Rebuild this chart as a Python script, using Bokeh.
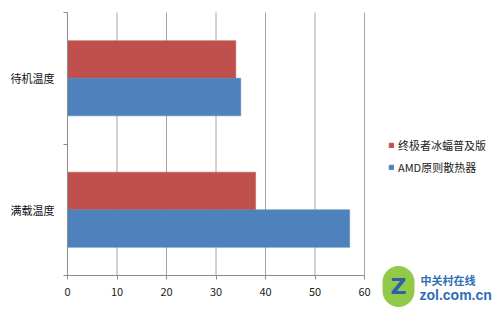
from bokeh.plotting import figure
from bokeh.models import (ColumnDataSource, FixedTicker, Legend, LegendItem, Label, Range1d)
from bokeh.embed import file_html
from bokeh.resources import INLINE

categories = ["满载温度", "待机温度"]  # bottom to top
series_names = ["终极者冰蝠普及版", "AMD原则散热器"]
series_colors = ["#c0504d", "#4f81bd"]
red_values = [38, 34]
blue_values = [57, 35]
x_ticks = [0, 10, 20, 30, 40, 50, 60]

FONT = "Noto Sans CJK SC"

# layout constants: value 0..60 spans px 67..364, categories span px 275..12
PX_PER_X = 297 / 60
PX_PER_Y = 263 / 2
x_start = -67 / PX_PER_X
x_end = (500 - 67) / PX_PER_X
y_start = -(314 - 275) / PX_PER_Y
y_end = 2 + 12 / PX_PER_Y

p = figure(width=500, height=314, output_backend="svg", toolbar_location=None,
           x_range=Range1d(x_start, x_end), y_range=Range1d(y_start, y_end),
           min_border=0)
p.outline_line_color = None
p.background_fill_color = "white"
p.border_fill_color = "white"
p.xgrid.grid_line_color = None
p.ygrid.grid_line_color = None

n = len(categories)
centers = [i + 0.5 for i in range(n)]

# vertical grid lines across the category span
p.segment(x0=x_ticks[1:], x1=x_ticks[1:], y0=[0] * (len(x_ticks) - 1),
          y1=[n] * (len(x_ticks) - 1), line_color="#a6a6a6", line_width=1)

bar_h = 0.286
off = 0.143
src_r = ColumnDataSource(dict(y=[c + off for c in centers], right=red_values))
src_b = ColumnDataSource(dict(y=[c - off for c in centers], right=blue_values))
r1 = p.hbar(y="y", right="right", left=0, height=bar_h, source=src_r,
            fill_color=series_colors[0], line_color=series_colors[0], line_width=0.5)
r2 = p.hbar(y="y", right="right", left=0, height=bar_h, source=src_b,
            fill_color=series_colors[1], line_color=series_colors[1], line_width=0.5)

# x axis
xa = p.xaxis[0]
xa.fixed_location = 0
xa.bounds = (0, 60)
xa.ticker = FixedTicker(ticks=x_ticks)
xa.axis_line_color = "#8c8c8c"
xa.major_tick_line_color = "#8c8c8c"
xa.major_tick_out = 4
xa.major_tick_in = 0
xa.minor_tick_line_color = None
xa.major_label_text_font = FONT
xa.major_label_text_font_size = "11px"
xa.major_label_text_color = "#222222"
xa.major_label_standoff = 8

# y axis
ya = p.yaxis[0]
ya.fixed_location = 0
ya.bounds = (0, n)
ya.ticker = FixedTicker(ticks=centers, minor_ticks=list(range(n + 1)))
ya.major_label_overrides = {c: lab for c, lab in zip(centers, categories)}
ya.axis_line_color = "#8c8c8c"
ya.major_tick_line_color = None
ya.major_tick_out = 0
ya.major_tick_in = 0
ya.minor_tick_line_color = "#8c8c8c"
ya.minor_tick_out = 4
ya.minor_tick_in = 0
ya.major_label_text_font = FONT
ya.major_label_text_font_size = "11px"
ya.major_label_text_color = "#111111"
ya.major_label_standoff = 9

legend = Legend(items=[LegendItem(label=series_names[0], renderers=[r1]),
                       LegendItem(label=series_names[1], renderers=[r2])],
                location=(388, 139), orientation="vertical",
                glyph_width=6, glyph_height=6, label_standoff=4, spacing=6,
                label_height=14, padding=0, margin=0,
                border_line_color=None, background_fill_alpha=0,
                label_text_font=FONT, label_text_font_size="11px",
                label_text_color="#222222")
p.add_layout(legend)

# watermark
p.add_layout(Label(x=398, y=28, x_units="screen", y_units="screen", text="Z",
                   text_align="center", text_baseline="middle",
                   text_font="DejaVu Sans", text_font_size="22px", text_font_style="bold",
                   text_color="#2f5fa8", background_fill_color="#8cc63f",
                   background_fill_alpha=0.95, padding=8, border_radius=16))
p.add_layout(Label(x=420, y=27, x_units="screen", y_units="screen", text="中关村在线",
                   text_font=FONT, text_font_size="11px", text_font_style="bold",
                   text_color="#2f6db5"))
p.add_layout(Label(x=419, y=12, x_units="screen", y_units="screen", text="zol.com.cn",
                   text_font="Liberation Sans", text_font_size="14px", text_font_style="bold",
                   text_color="#2f6db5"))

open("out.html", "w").write(file_html(p, INLINE))
